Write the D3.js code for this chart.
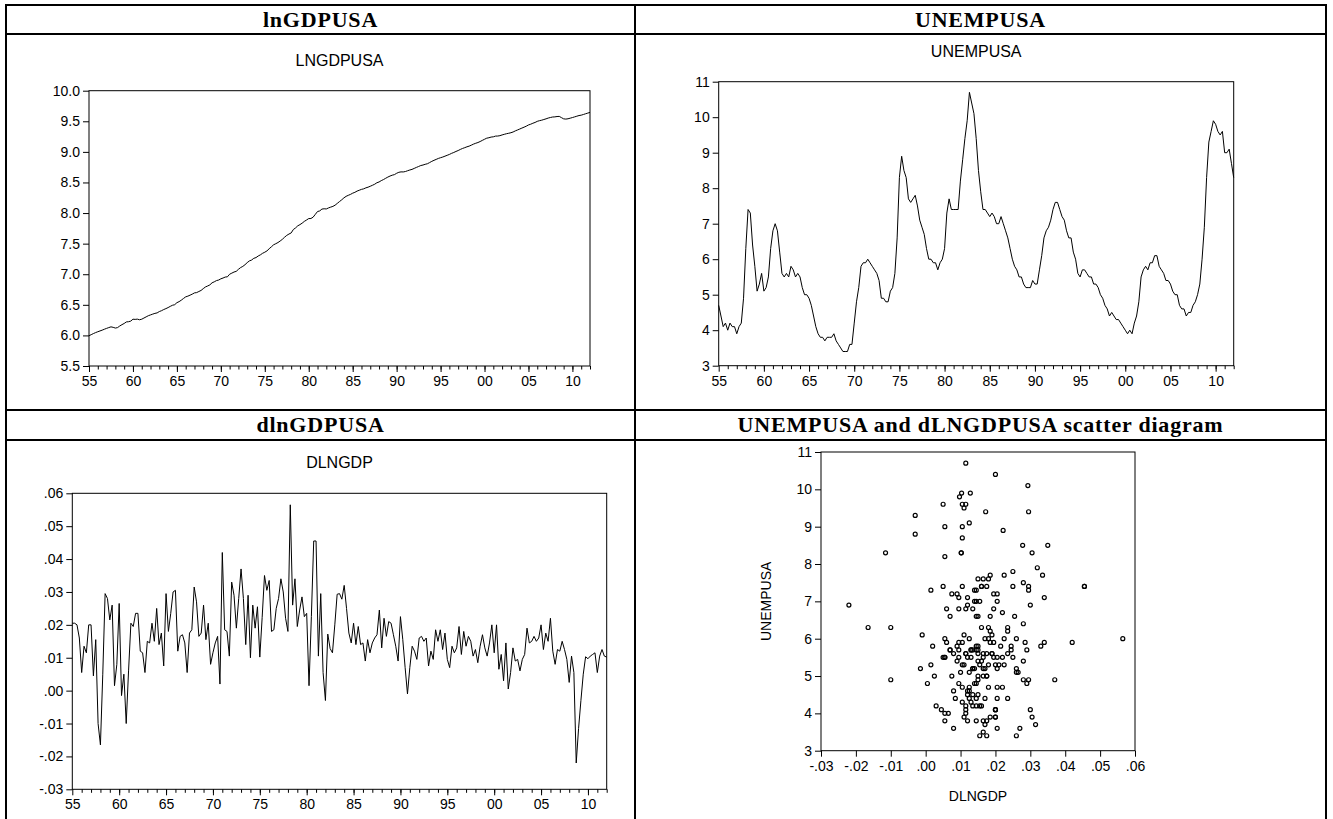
<!DOCTYPE html>
<html>
<head>
<meta charset="utf-8">
<script src="https://cdn.jsdelivr.net/npm/d3@7"></script>
<style>
  body { margin: 0; background: #fff; }
  svg { display: block; }
</style>
</head>
<body>
<svg id="chart" width="1333" height="819"></svg>
<script>
// quarterly data, 1955Q1 .. 2012Q1
var startYear = 1955, endYear = 2012;

var lngdp = [
  5.995,6.012,6.030,6.046, 6.060,6.073,6.086,6.101, 6.115,6.128,6.140,6.132, 6.120,6.128,6.154,6.176,
  6.195,6.220,6.224,6.234, 6.265,6.262,6.266,6.256, 6.265,6.284,6.303,6.322, 6.335,6.348,6.360,6.368,
  6.390,6.404,6.423,6.438, 6.455,6.475,6.493,6.502, 6.535,6.552,6.576,6.604, 6.630,6.642,6.658,6.675,
  6.695,6.700,6.718,6.735, 6.765,6.792,6.808,6.826, 6.860,6.876,6.896,6.905, 6.925,6.938,6.954,6.958,
  7.000,7.018,7.036,7.047, 7.080,7.109,7.128,7.156, 7.190,7.218,7.232,7.260, 7.272,7.298,7.317,7.342,
  7.360,7.382,7.417,7.448, 7.481,7.499,7.518,7.543, 7.571,7.605,7.635,7.657, 7.675,7.731,7.757,7.791,
  7.811,7.835,7.864,7.886, 7.910,7.911,7.933,7.979, 8.025,8.035,8.065,8.070, 8.067,8.084,8.097,8.109,
  8.129,8.158,8.188,8.216, 8.248,8.273,8.290,8.305, 8.325,8.339,8.359,8.373, 8.387,8.396,8.412,8.423,
  8.438,8.454,8.471,8.495, 8.508,8.530,8.547,8.568, 8.588,8.605,8.619,8.628, 8.650,8.666,8.673,8.672,
  8.679,8.692,8.704,8.714, 8.730,8.746,8.761,8.777, 8.785,8.797,8.806,8.825, 8.845,8.862,8.877,8.893,
  8.905,8.916,8.930,8.944, 8.958,8.976,8.990,9.007, 9.022,9.040,9.056,9.069, 9.083,9.094,9.110,9.127,
  9.141,9.153,9.169,9.188, 9.206,9.224,9.231,9.242, 9.246,9.258,9.259,9.265, 9.277,9.287,9.297,9.304,
  9.313,9.325,9.343,9.358, 9.373,9.389,9.404,9.420, 9.440,9.452,9.468,9.481, 9.499,9.510,9.518,9.529,
  9.540,9.553,9.562,9.570, 9.572,9.578,9.580,9.560, 9.540,9.536,9.541,9.551, 9.561,9.572,9.583,9.594,
  9.600,9.611,9.623,9.634, 9.645
];

var unemp = [
  4.7,4.4,4.1,4.2, 4.0,4.2,4.1,4.1, 3.9,4.1,4.2,4.9, 6.3,7.4,7.3,6.4, 5.8,5.1,5.3,5.6,
  5.1,5.2,5.5,6.3, 6.8,7.0,6.8,6.2, 5.6,5.5,5.6,5.5, 5.8,5.7,5.5,5.6, 5.5,5.2,5.0,5.0,
  4.9,4.7,4.4,4.1, 3.9,3.8,3.8,3.7, 3.8,3.8,3.8,3.9, 3.7,3.6,3.5,3.4, 3.4,3.4,3.6,3.6,
  4.2,4.8,5.2,5.8, 5.9,5.9,6.0,5.9, 5.8,5.7,5.6,5.4, 4.9,4.9,4.8,4.8, 5.1,5.2,5.6,6.6,
  8.3,8.9,8.5,8.3, 7.7,7.6,7.7,7.8, 7.5,7.1,6.9,6.7, 6.3,6.0,6.0,5.9, 5.9,5.7,5.9,6.0,
  6.3,7.3,7.7,7.4, 7.4,7.4,7.4,8.2, 8.8,9.4,9.9,10.7, 10.4,10.1,9.4,8.5, 7.9,7.4,7.4,7.3,
  7.2,7.3,7.2,7.0, 7.0,7.2,7.0,6.8, 6.6,6.3,6.0,5.8, 5.7,5.5,5.5,5.3, 5.2,5.2,5.2,5.4,
  5.3,5.3,5.7,6.1, 6.6,6.8,6.9,7.1, 7.4,7.6,7.6,7.4, 7.2,7.1,6.8,6.6, 6.6,6.2,6.0,5.6,
  5.5,5.7,5.7,5.6, 5.5,5.5,5.3,5.3, 5.2,5.0,4.9,4.7, 4.6,4.4,4.5,4.4, 4.3,4.3,4.2,4.1,
  4.0,3.9,4.0,3.9, 4.2,4.4,4.8,5.5, 5.7,5.8,5.7,5.9, 5.9,6.1,6.1,5.8, 5.7,5.6,5.4,5.4,
  5.3,5.1,5.0,5.0, 4.7,4.6,4.6,4.4, 4.5,4.5,4.7,4.8, 5.0,5.3,6.0,6.9, 8.3,9.3,9.6,9.9,
  9.8,9.6,9.5,9.6, 9.0,9.0,9.1,8.7, 8.3
];

var dlngdp = [
  .0205,.0205,.0200,.0160, .0055,.0135,.0115,.0200, .0200,.0045,.0155,-.0100, -.0165,.0050,.0295,.0280,
  .0215,.0260,.0015,.0080, .0265,-.0015,.0050,-.0100, .0060,.0205,.0195,.0235, .0235,.0120,.0115,.0055,
  .0150,.0145,.0205,.0150, .0250,.0140,.0175,.0075, .0295,.0180,.0235,.0300, .0305,.0120,.0165,.0170,
  .0145,.0055,.0175,.0185, .0315,.0270,.0165,.0175, .0260,.0155,.0205,.0080, .0115,.0145,.0165,.0020,
  .0420,.0185,.0180,.0105, .0330,.0290,.0190,.0280, .0370,.0280,.0140,.0290, .0100,.0260,.0190,.0255,
  .0102,.0222,.0350,.0305, .0335,.0180,.0185,.0250, .0280,.0340,.0300,.0220, .0180,.0565,.0260,.0340,
  .0195,.0245,.0285,.0225, .0235,.0015,.0225,.0455, .0455,.0105,.0295,.0055, -.0030,.0172,.0128,.0115,
  .0200,.0293,.0295,.0278, .0320,.0250,.0175,.0145, .0205,.0140,.0195,.0140, .0145,.0090,.0155,.0115,
  .0145,.0160,.0170,.0245, .0130,.0220,.0165,.0210, .0205,.0170,.0135,.0090, .0225,.0155,.0070,-.0010,
  .0070,.0135,.0120,.0095, .0160,.0165,.0150,.0160, .0075,.0120,.0095,.0185, .0150,.0185,.0125,.0175,
  .0095,.0070,.0135,.0115, .0130,.0195,.0110,.0180, .0135,.0165,.0150,.0105, .0125,.0085,.0135,.0170,
  .0130,.0105,.0145,.0200, .0115,.0200,.0065,.0110, .0030,.0145,.0005,.0055, .0130,.0090,.0095,.0060,
  .0095,.0110,.0190,.0145, .0150,.0165,.0150,.0160, .0200,.0125,.0175,.0150, .0220,.0120,.0080,.0125,
  .0120,.0150,.0125,.0095, .0025,.0105,.0055,-.0220, -.0115,-.0030,.0050,.0103, .0097,.0105,.0110,.0115,
  .0055,.0105,.0125,.0105, .0102
];

var headers = ["lnGDPUSA", "UNEMPUSA", "dlnGDPUSA", "UNEMPUSA and dLNGDPUSA scatter diagram"];
var majorYears = d3.range(1955, 2011, 5);
var minorYears = d3.range(1956, 2013, 1);
var lngdpTicks = [5.5, 6.0, 6.5, 7.0, 7.5, 8.0, 8.5, 9.0, 9.5, 10.0];
var unempTicks = [3, 4, 5, 6, 7, 8, 9, 10, 11];
var dlngdpTicks = [-0.03, -0.02, -0.01, 0, 0.01, 0.02, 0.03, 0.04, 0.05, 0.06];

var svg = d3.select("#chart");
var SANS = '"Liberation Sans", Arial, sans-serif';

var fmtYear = function (y) { return d3.format("02d")(y % 100); };
// eviews style: ".06", "-.01" with a plain hyphen
var fmtDot = function (v) { return d3.format(".2f")(v).replace("0.", ".").replace("\u2212", "-"); };

// table grid
var grid = svg.append("g").attr("stroke", "#000").attr("stroke-width", 2).attr("fill", "none");
grid.append("rect").attr("x", 6).attr("y", 5).attr("width", 1320).attr("height", 830);
[34, 410, 440].forEach(function (y) {
    grid.append("line").attr("x1", 6).attr("x2", 1326).attr("y1", y).attr("y2", y);
});
grid.append("line").attr("x1", 635).attr("x2", 635).attr("y1", 5).attr("y2", 835);

var headerPos = [[320.5, 27], [980.5, 27], [320.5, 432], [980.5, 432]];
headers.forEach(function (h, i) {
    svg.append("text")
        .attr("x", headerPos[i][0]).attr("y", headerPos[i][1])
        .attr("text-anchor", "middle")
        .style("font-family", '"Liberation Serif", "Times New Roman", serif')
        .style("font-weight", "bold").style("font-size", "22px")
        .style("letter-spacing", "0.8px")
        .text(h);
});

function styleAxis(sel) {
    sel.select(".domain").remove();
    sel.selectAll("line").attr("stroke", "#000");
    sel.selectAll("text").attr("fill", "#000").style("font-family", SANS).style("font-size", "14px");
}

function frame(g, b) {
    g.append("rect").attr("x", b.l).attr("y", b.t).attr("width", b.r - b.l).attr("height", b.b - b.t)
        .attr("fill", "none").attr("stroke", "#000").attr("stroke-width", 1);
}

function timeChart(b, values, yDomain, yTicks, yFmt, title, titleY) {
    var x = d3.scaleLinear().domain([startYear, endYear]).range([b.l, b.r]),
        y = d3.scaleLinear().domain(yDomain).range([b.b, b.t]),
        g = svg.append("g");

    g.append("g").attr("transform", "translate(" + b.l + ",0)")
        .call(d3.axisLeft(y).tickValues(yTicks).tickFormat(yFmt).tickSize(6).tickPadding(3).tickSizeOuter(0))
        .call(styleAxis);
    g.append("g").attr("transform", "translate(0," + b.b + ")")
        .call(d3.axisBottom(x).tickValues(minorYears).tickFormat("").tickSize(3.5).tickSizeOuter(0))
        .call(styleAxis);
    g.append("g").attr("transform", "translate(0," + b.b + ")")
        .call(d3.axisBottom(x).tickValues(majorYears).tickFormat(fmtYear).tickSize(6).tickPadding(4).tickSizeOuter(0))
        .call(styleAxis);

    frame(g, b);

    var line = d3.line()
        .x(function (d, i) { return x(startYear + i / 4); })
        .y(function (d) { return y(d); });
    g.append("path").datum(values)
        .attr("d", line).attr("fill", "none").attr("stroke", "#000").attr("stroke-width", 1);

    g.append("text").attr("x", (b.l + b.r) / 2).attr("y", titleY)
        .attr("text-anchor", "middle").style("font-family", SANS).style("font-size", "16px")
        .text(title);
}

timeChart({l: 89, r: 590, t: 90.7, b: 366}, lngdp, [5.5, 10], lngdpTicks, d3.format(".1f"), "LNGDPUSA", 66);
timeChart({l: 718.7, r: 1233.7, t: 81.7, b: 365.7}, unemp, [3, 11], unempTicks, d3.format("d"), "UNEMPUSA", 57);
timeChart({l: 72.3, r: 606.7, t: 493.3, b: 789.3}, dlngdp, [-0.03, 0.06], dlngdpTicks, fmtDot, "DLNGDP", 468);

// scatter diagram
(function () {
    var b = {l: 821, r: 1135, t: 452, b: 750.7};
    var x = d3.scaleLinear().domain([-0.03, 0.06]).range([b.l, b.r]),
        y = d3.scaleLinear().domain([3, 11]).range([b.b, b.t]),
        g = svg.append("g");

    g.append("g").attr("transform", "translate(" + b.l + ",0)")
        .call(d3.axisLeft(y).tickValues(unempTicks).tickFormat(d3.format("d")).tickSize(6).tickPadding(3).tickSizeOuter(0))
        .call(styleAxis);
    g.append("g").attr("transform", "translate(0," + b.b + ")")
        .call(d3.axisBottom(x).tickValues(dlngdpTicks).tickFormat(fmtDot).tickSize(6).tickPadding(4).tickSizeOuter(0))
        .call(styleAxis);

    frame(g, b);

    g.selectAll("circle.pt").data(dlngdp)
        .enter().append("circle")
        .attr("class", "pt")
        .attr("cx", function (d) { return x(d); })
        .attr("cy", function (d, i) { return y(unemp[i]); })
        .attr("r", 2)
        .attr("fill", "none").attr("stroke", "#000").attr("stroke-width", 1.2);

    g.append("text").attr("x", (b.l + b.r) / 2).attr("y", 801)
        .attr("text-anchor", "middle").style("font-family", SANS).style("font-size", "14px")
        .text("DLNGDP");
    g.append("text").attr("transform", "translate(771," + (b.t + b.b) / 2 + ") rotate(-90)")
        .attr("text-anchor", "middle").style("font-family", SANS).style("font-size", "14px")
        .text("UNEMPUSA");
})();
</script>
</body>
</html>
